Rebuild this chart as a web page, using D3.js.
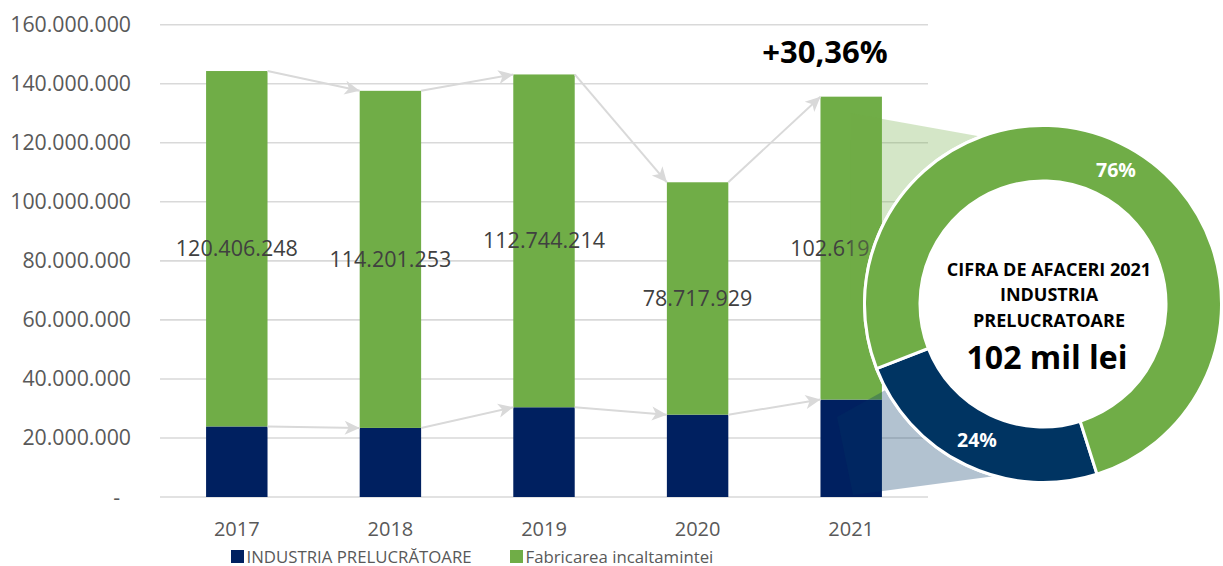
<!DOCTYPE html>
<html>
<head>
<meta charset="utf-8">
<script src="https://cdn.jsdelivr.net/npm/d3@7"></script>
<style>
  html, body { margin: 0; padding: 0; background: #fff; }
  svg { display: block; font-family: "Open Sans", sans-serif; }
</style>
</head>
<body>
<svg id="chart" width="1223" height="566"></svg>
<script>
const years = ["2017", "2018", "2019", "2020", "2021"];
const industria = [23900000, 23400000, 30400000, 27900000, 33000000];
const incaltaminte = [120406248, 114201253, 112744214, 78717929, 102619153];
const labels = ["120.406.248", "114.201.253", "112.744.214", "78.717.929", "102.619.153"];
const yTicks = [0, 20000000, 40000000, 60000000, 80000000, 100000000, 120000000, 140000000, 160000000];
const seriesNames = ["INDUSTRIA PRELUCRĂTOARE", "Fabricarea incaltamintei"];
const growthLabel = "+30,36%";
const donutShares = [24, 76];
const donutTitle = ["CIFRA DE AFACERI 2021", "INDUSTRIA", "PRELUCRATOARE"];
const donutValue = "102 mil lei";

const NAVY = "#002060", GREEN = "#70AD47", NAVY2 = "#003462", GRID = "#d9d9d9";

const svg = d3.select("#chart");
const x = d3.scaleBand().domain(years).range([160, 928]).paddingInner(0.6).paddingOuter(0.3);
const y = d3.scaleLinear().domain([0, 160000000]).range([497, 24.7]);
const bw = x.bandwidth();

const fmt = v => v === 0 ? "-" : d3.format(",")(v).replace(/,/g, ".");

// gridlines
svg.append("g").selectAll("line").data(yTicks).join("line")
  .attr("x1", 160).attr("x2", 928)
  .attr("y1", d => y(d)).attr("y2", d => y(d))
  .attr("stroke", GRID).attr("stroke-width", 1.6);

// y labels
svg.append("g").selectAll("text").data(yTicks).join("text")
  .attr("x", d => d === 0 ? 120 : 131)
  .attr("y", d => y(d) + 7.5)
  .attr("text-anchor", "end")
  .attr("font-size", 21.3).attr("fill", "#595959")
  .text(fmt);

// bars
const totals = years.map((yr, i) => industria[i] + incaltaminte[i]);
svg.append("g").selectAll("rect").data(years).join("rect")
  .attr("x", d => x(d)).attr("width", bw)
  .attr("y", (d, i) => y(industria[i])).attr("height", (d, i) => y(0) - y(industria[i]))
  .attr("fill", NAVY);
svg.append("g").selectAll("rect").data(years).join("rect")
  .attr("x", d => x(d)).attr("width", bw)
  .attr("y", (d, i) => y(totals[i])).attr("height", (d, i) => y(industria[i]) - y(totals[i]))
  .attr("fill", GREEN);

// arrows
const defs = svg.append("defs");
defs.append("marker").attr("id", "arr")
  .attr("viewBox", "-16 -8 18 16").attr("refX", 0).attr("refY", 0)
  .attr("markerWidth", 18).attr("markerHeight", 16)
  .attr("markerUnits", "userSpaceOnUse").attr("orient", "auto")
  .append("path").attr("d", "M0,0 L-15,-7 L-11,0 L-15,7 Z").attr("fill", GRID);

function arrows(vals) {
  const segs = d3.pairs(years.map((yr, i) => ({ yr, v: vals[i] })));
  svg.append("g").selectAll("line").data(segs).join("line")
    .attr("x1", d => x(d[0].yr) + bw).attr("y1", d => y(d[0].v))
    .attr("x2", d => x(d[1].yr)).attr("y2", d => y(d[1].v))
    .attr("stroke", GRID).attr("stroke-width", 2)
    .attr("marker-end", "url(#arr)");
}
arrows(totals);
arrows(industria);

// data labels
svg.append("g").selectAll("text").data(years).join("text")
  .attr("x", d => x(d) + bw / 2)
  .attr("y", (d, i) => (y(totals[i]) + y(industria[i])) / 2 + 7.5)
  .attr("text-anchor", "middle")
  .attr("font-size", 21.5).attr("fill", "#404040")
  .text((d, i) => labels[i]);

// x labels
svg.append("g").selectAll("text").data(years).join("text")
  .attr("x", d => x(d) + bw / 2).attr("y", 536)
  .attr("text-anchor", "middle")
  .attr("font-size", 20).attr("fill", "#595959")
  .text(d => d);

// legend
const leg = svg.append("g");
const legItems = [{ name: seriesNames[0], c: NAVY, x: 231 }, { name: seriesNames[1], c: GREEN, x: 510 }];
legItems.forEach(it => {
  leg.append("rect").attr("x", it.x).attr("y", 550).attr("width", 13).attr("height", 13).attr("fill", it.c);
  leg.append("text").attr("x", it.x + 15.5).attr("y", 562.5).attr("font-size", 16.8).attr("fill", "#595959").text(it.name);
});

// growth label
svg.append("text").attr("x", 825).attr("y", 63).attr("text-anchor", "middle")
  .attr("font-size", 31).attr("font-weight", 700).attr("fill", "#000")
  .text(growthLabel);

// zoom wedges
const bx = x("2021");
svg.append("polygon")
  .attr("points", [[bx + 30, 113.3], [1000, 140], [1000, 300], [bx + 30, 300]].map(p => p.join(",")).join(" "))
  .attr("fill", GREEN).attr("opacity", 0.3);
svg.append("polygon")
  .attr("points", [[837, 417], [853, 495], [1040, 470], [1040, 330], [950, 354]].map(p => p.join(",")).join(" "))
  .attr("fill", NAVY2).attr("opacity", 0.3);

// donut
const cx = 1043, cy = 304, rOut = 178.5, rIn = 123;
const dg = svg.append("g").attr("transform", `translate(${cx},${cy})`);
dg.append("circle").attr("r", rOut + 1.5).attr("fill", "#fff");
const pie = d3.pie().sort(null).startAngle(162.4 * Math.PI / 180).endAngle(162.4 * Math.PI / 180 + 2 * Math.PI);
const arc = d3.arc().innerRadius(rIn).outerRadius(rOut);
const arcs = pie(donutShares);
const cols = [NAVY2, GREEN];
dg.selectAll("path").data(arcs).join("path")
  .attr("d", arc).attr("fill", (d, i) => cols[i])
  .attr("stroke", "#fff").attr("stroke-width", 3);

// donut percentage labels
const pctPos = [[977 - cx, 447 - cy], [1116 - cx, 177 - cy]];
dg.selectAll("text.pct").data(arcs).join("text").attr("class", "pct")
  .attr("x", (d, i) => pctPos[i][0]).attr("y", (d, i) => pctPos[i][1])
  .attr("text-anchor", "middle").attr("font-size", 19.5).attr("font-weight", 700).attr("fill", "#fff")
  .text((d, i) => donutShares[i] + "%");

// center text
const tx = 1049;
[[donutTitle[0], 276], [donutTitle[1], 301], [donutTitle[2], 327]].forEach(([t, yy]) => {
  svg.append("text").attr("x", tx).attr("y", yy).attr("text-anchor", "middle")
    .attr("font-size", 18).attr("font-weight", 700).attr("fill", "#000").text(t);
});
svg.append("text").attr("x", 1047).attr("y", 369).attr("text-anchor", "middle")
  .attr("font-size", 32).attr("font-weight", 700).attr("fill", "#000").text(donutValue);
</script>
</body>
</html>
